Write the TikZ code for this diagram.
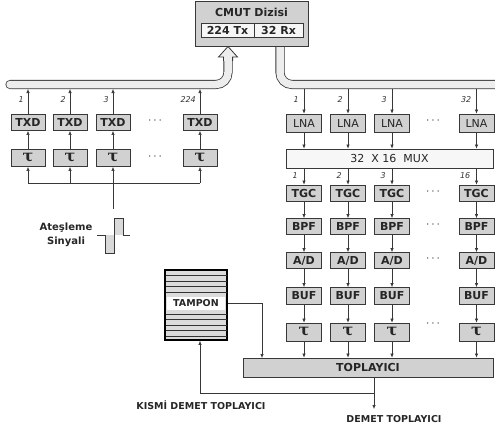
\documentclass[tikz,border=0pt]{standalone}
\usepackage{fontspec}
\setmainfont{DejaVu Sans}
\newfontfamily\taufont{DejaVu Serif}
\usetikzlibrary{arrows.meta}
\definecolor{boxfill}{gray}{0.82}
\definecolor{linec}{gray}{0.22}
\begin{document}
\begin{tikzpicture}[x=1pt,y=-1pt,
  font=\bfseries\fontsize{11}{13}\selectfont,
  text=black!85,
  blk/.style={draw=linec, fill=boxfill, line width=0.7pt, minimum width=34pt, minimum height=16pt, inner sep=0pt},
  ar/.style={draw=linec, line width=0.6pt, -{Latex[length=4pt,width=3.4pt]}},
  ln/.style={draw=linec, line width=0.6pt},
  num/.style={font=\itshape\fontsize{8}{9}\selectfont, text=black!80, inner sep=0pt},
  dotsn/.style={font=\bfseries\fontsize{12}{12}\selectfont, inner sep=0pt},
  bus/.style={draw=linec, line width=0.8pt, double=gray!14, double distance=7.5pt},
  tautxt/.style={font=\taufont\bfseries\fontsize{16}{16}\selectfont},
]
\useasboundingbox (0,0) rectangle (495,431);

% ---------- buses ----------
\draw[bus, line cap=round, rounded corners=12pt] (10,84.5) -- (228,84.5) -- (228,60);
\filldraw[draw=linec, fill=gray!14, line width=0.8pt, line join=miter]
  (223.4,61) -- (223.4,57) -- (218.5,57) -- (228,46.5) -- (237.5,57) -- (232.6,57) -- (232.6,61);
\draw[bus, rounded corners=12pt] (280,46.5) -- (280,84.5) -- (496,84.5);

% ---------- CMUT array ----------
\node[draw=linec, fill=boxfill, line width=0.8pt, minimum width=113pt, minimum height=45pt, inner sep=0pt] (cmut) at (251.5,23.5) {};
\node (cmutt) at (251.5,12) {CMUT Dizisi};
\node[draw=linec, fill=gray!7, line width=0.7pt, minimum width=53pt, minimum height=14pt, inner sep=0pt] (tx) at (227.5,30) {224 Tx};
\node[draw=linec, fill=gray!7, line width=0.7pt, minimum width=49pt, minimum height=14pt, inner sep=0pt] (rx) at (278.5,30) {32 Rx};

% ---------- transmit side ----------
\foreach \x/\i/\l in {28/1/1, 70/2/2, 113/3/3, 200/4/224} {
  \node[blk] (txd\i) at (\x,122.5) {TXD};
  \node[blk, minimum height=17pt, tautxt] (lt\i) at (\x,158) {τ};
  \coordinate (bt\i) at (\x,89);
  \draw[ar] (lt\i) -- (txd\i);
  \draw[ar] (txd\i) -- (bt\i);
  \node[num, anchor=east] (tn\i) at (\x-4,100) {\l};
}
\node[dotsn] (td1) at (155,121) {$\cdots$};
\node[dotsn] (td2) at (155,157) {$\cdots$};

\coordinate (fl) at (28,183);
\coordinate (fr) at (200,183);
\draw[ln] (fl) -- (fr);
\draw[ar] (fl) -- (lt1);
\draw[ar] (lt2.south |- fl) -- (lt2);
\draw[ar] (fr) -- (lt4);
\coordinate (sig) at (113,209);
\draw[ar] (sig) -- (lt3);

% firing pulse
\fill[gray!30] (105,235) rectangle (114,253);
\fill[gray!30] (114,218) rectangle (123,235);
\draw[ln, line width=0.7pt] (97,235) -- (105,235) -- (105,253) -- (114,253) -- (114,218) -- (123,218) -- (123,235) -- (130,235);
\node[align=center, font=\bfseries\fontsize{10}{14}\selectfont] (ates) at (66,235) {Ateşleme\\Sinyali};

% ---------- receive side ----------
\foreach \x/\i/\l/\m in {304/1/1/1, 348/2/2/2, 392/3/3/3, 476.5/4/32/16} {
  \node[blk, minimum width=35pt, minimum height=18pt] (lna\i) at (\x,123) {\fontseries{m}\selectfont LNA};
  \coordinate (br\i) at (\x,89);
  \draw[ar] (br\i) -- (lna\i);
  \node[num, anchor=east] (rn\i) at (\x-5,100) {\l};
}
\node[draw=linec, fill=gray!6, line width=0.7pt, minimum width=207pt, minimum height=19pt, inner sep=0pt] (mux) at (389.5,158.5) {\fontseries{m}\selectfont 32\ \ X 16\ \ MUX};
\foreach \x/\i/\m in {304/1/1, 348/2/2, 392/3/3, 476.5/4/16} {
  \draw[ar] (lna\i) -- (lna\i |- mux.north);
  \node[blk, minimum width=35pt] (tgc\i) at (\x,193) {TGC};
  \node[blk, minimum width=35pt] (bpf\i) at (\x,226.5) {BPF};
  \node[blk, minimum width=35pt] (ad\i) at (\x,260.5) {A/D};
  \node[blk, minimum width=35pt, minimum height=17pt] (buf\i) at (\x,296) {BUF};
  \node[blk, minimum width=35pt, minimum height=18pt, tautxt] (rt\i) at (\x,332) {τ};
  \draw[ar] (tgc\i |- mux.south) -- (tgc\i);
  \node[num, anchor=east] (mn\i) at (\x-6,175.5) {\m};
  \draw[ar] (tgc\i) -- (bpf\i);
  \draw[ar] (bpf\i) -- (ad\i);
  \draw[ar] (ad\i) -- (buf\i);
  \draw[ar] (buf\i) -- (rt\i);
}
\node[dotsn] (rd1) at (433,121) {$\cdots$};
\node[dotsn] (rd2) at (433,192) {$\cdots$};
\node[dotsn] (rd3) at (433,225) {$\cdots$};
\node[dotsn] (rd4) at (433,259) {$\cdots$};
\node[dotsn] (rd5) at (433,324) {$\cdots$};

\node[draw=linec, fill=boxfill, line width=0.7pt, minimum width=250pt, minimum height=19pt, inner sep=0pt] (topl) at (368,367.5) {TOPLAYICI};
\foreach \i in {1,2,3,4} {
  \draw[ar] (rt\i) -- (rt\i |- topl.north);
}

% ---------- buffer ----------
\node[draw=black, fill=gray!28, line width=1.6pt, minimum width=62pt, minimum height=70pt, inner sep=0pt] (tampon) at (196,305) {};
\foreach \y in {275.5,281,286.5,292,314,319.5,325,330.5,336} {
  \draw[black!80, line width=0.9pt] (165.5,\y) -- (226.5,\y);
}
\node[fill=white, minimum width=58pt, minimum height=13pt, inner sep=0pt, font=\bfseries\fontsize{9.5}{10}\selectfont] (tampt) at (196,303) {TAMPON};
\coordinate (tin) at (262,358);
\draw[ar] (tampon.east |- tampt) -| (tin);

% ---------- outputs ----------
\coordinate (jn) at (374,393);
\coordinate (dtip) at (374,409);
\coordinate (tb) at (200,340.8);
\draw[ln] (jn |- topl.south) -- (jn);
\draw[ar] (jn) -- (dtip);
\draw[ar] (jn) -| (tb);
\node[font=\bfseries\fontsize{9.5}{11}\selectfont] (kdt) at (201,405) {KISMİ DEMET TOPLAYICI};
\node[font=\bfseries\fontsize{9.5}{11}\selectfont] (dt) at (394,419) {DEMET TOPLAYICI};
\end{tikzpicture}
\end{document}
